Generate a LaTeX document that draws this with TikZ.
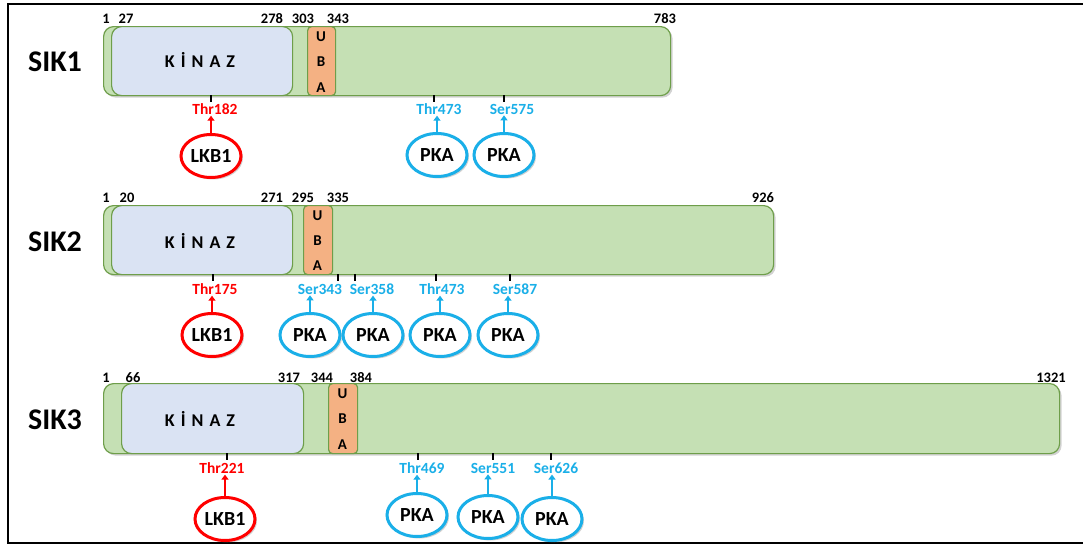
\documentclass[tikz,border=0pt]{standalone}
\usepackage{fontspec}
\setmainfont{Carlito}
\usetikzlibrary{shapes.geometric,shadows,arrows.meta}
\definecolor{bargreen}{HTML}{C5E0B4}
\definecolor{edgegreen}{HTML}{6E9E4A}
\definecolor{kinblue}{HTML}{DAE3F3}
\definecolor{ubaorange}{HTML}{F4B183}
\definecolor{pkablue}{HTML}{1AAFE8}
\definecolor{lkbred}{HTML}{FF0000}
\tikzset{
  shad/.style={drop shadow={opacity=0.35,shadow xshift=2pt,shadow yshift=-2pt}},
  bar/.style={draw=edgegreen,line width=1.2pt,fill=bargreen,rounded corners=10pt,anchor=north west,inner sep=0pt,shad},
  kin/.style={draw=edgegreen,line width=1.2pt,fill=kinblue,rounded corners=10pt,anchor=north west,inner sep=0pt},
  uba/.style={draw=edgegreen,line width=1.2pt,fill=ubaorange,rounded corners=4pt,anchor=north west,inner sep=0pt},
  ubatxt/.style={font=\bfseries\fontsize{15}{15}\selectfont,align=center},
  kintxt/.style={font=\bfseries\fontsize{18}{18}\selectfont},
  sik/.style={font=\bfseries\fontsize{30}{30}\selectfont},
  num/.style={font=\bfseries\fontsize{14.5}{14.5}\selectfont,inner sep=0pt},
  site/.style={font=\bfseries\fontsize{15.5}{15.5}\selectfont,inner sep=1pt},
  redsite/.style={site,text=lkbred},
  bluesite/.style={site,text=pkablue},
  enz/.style={ellipse,fill=white,line width=3pt,minimum width=60pt,minimum height=43pt,inner sep=0pt,font=\bfseries\fontsize{20}{20}\selectfont,shad},
  lkb/.style={enz,draw=lkbred},
  pka/.style={enz,draw=pkablue},
  tickm/.style={line width=1.8pt,black},
  redarr/.style={draw=lkbred,line width=2pt,-{Triangle[length=5pt,width=7pt]}},
  bluearr/.style={draw=pkablue,line width=2pt,-{Triangle[length=5pt,width=7pt]}},
}
\newcommand{\kinaz}{K\hspace{6pt}\.I\hspace{6pt}N\hspace{6pt}A\hspace{6pt}Z}
\begin{document}
\begin{tikzpicture}[x=1pt,y=-1pt]
\useasboundingbox (0,0) rectangle (1083,546);
\fill[white] (0,0) rectangle (1083,546);
\draw[line width=2.5pt] (8,4) rectangle (1095,543);

% ---------------- SIK1 ----------------
\node[sik] (sik1) at (55,62) {SIK1};
\node[bar,minimum width=567pt,minimum height=69pt] (bar1) at (103,26) {};
\node[kin,minimum width=181pt,minimum height=69pt] (kin1) at (111,26) {};
\node[uba,minimum width=28pt,minimum height=69pt] (uba1) at (307,26) {};
\node[kintxt] (kt1) at (200,60) {\kinaz};
\node[ubatxt] (u1a) at (321,37) {U};
\node[ubatxt] (u1b) at (321,62) {B};
\node[ubatxt] (u1c) at (321,88) {A};
\node[num] (n1a) at (106,19) {1};
\node[num] (n1b) at (126,19) {27};
\node[num] (n1c) at (272,19) {278};
\node[num] (n1d) at (303,19) {303};
\node[num] (n1e) at (338,19) {343};
\node[num] (n1f) at (665,19) {783};
\draw[tickm] (211,95) -- (211,102);
\draw[tickm] (434,95) -- (434,102);
\draw[tickm] (504,95) -- (504,102);
\node[redsite] (s1a) at (215,109) {Thr182};
\node[bluesite] (s1b) at (439,109) {Thr473};
\node[bluesite] (s1c) at (512,109) {Ser575};
\node[lkb] (e1a) at (211,156) {LKB1};
\node[pka] (e1b) at (437,155) {PKA};
\node[pka] (e1c) at (504,155) {PKA};
\draw[redarr] (e1a.north) -- (e1a.north |- s1a.south);
\draw[bluearr] (e1b.north) -- (e1b.north |- s1b.south);
\draw[bluearr] (e1c.north) -- (e1c.north |- s1c.south);

% ---------------- SIK2 ----------------
\node[sik] (sik2) at (55,242) {SIK2};
\node[bar,minimum width=670pt,minimum height=69pt] (bar2) at (103,205) {};
\node[kin,minimum width=181pt,minimum height=69pt] (kin2) at (111,205) {};
\node[uba,minimum width=29pt,minimum height=69pt] (uba2) at (303,205) {};
\node[kintxt] (kt2) at (200,241) {\kinaz};
\node[ubatxt] (u2a) at (317.5,216) {U};
\node[ubatxt] (u2b) at (317.5,241) {B};
\node[ubatxt] (u2c) at (317.5,266) {A};
\node[num] (n2a) at (106,198) {1};
\node[num] (n2b) at (127,198) {20};
\node[num] (n2c) at (272,198) {271};
\node[num] (n2d) at (303,198) {295};
\node[num] (n2e) at (338,198) {335};
\node[num] (n2f) at (763,198) {926};
\draw[tickm] (213,274) -- (213,281);
\draw[tickm] (338,274) -- (338,281);
\draw[tickm] (355,274) -- (355,281);
\draw[tickm] (436,274) -- (436,281);
\draw[tickm] (510,274) -- (510,281);
\node[redsite] (s2a) at (215,289) {Thr175};
\node[bluesite] (s2b) at (320,289) {Ser343};
\node[bluesite] (s2c) at (372,289) {Ser358};
\node[bluesite] (s2d) at (442,289) {Thr473};
\node[bluesite] (s2e) at (515,289) {Ser587};
\node[lkb] (e2a) at (212,335) {LKB1};
\node[pka] (e2b) at (310,335) {PKA};
\node[pka] (e2c) at (373,335) {PKA};
\node[pka] (e2d) at (440,335) {PKA};
\node[pka] (e2e) at (508,335) {PKA};
\draw[redarr] (e2a.north) -- (e2a.north |- s2a.south);
\draw[bluearr] (e2b.north) -- (e2b.north |- s2b.south);
\draw[bluearr] (e2c.north) -- (e2c.north |- s2c.south);
\draw[bluearr] (e2d.north) -- (e2d.north |- s2d.south);
\draw[bluearr] (e2e.north) -- (e2e.north |- s2e.south);

% ---------------- SIK3 ----------------
\node[sik] (sik3) at (55,420) {SIK3};
\node[bar,minimum width=956pt,minimum height=70pt] (bar3) at (103,383) {};
\node[kin,minimum width=182pt,minimum height=70pt] (kin3) at (121,383) {};
\node[uba,minimum width=29pt,minimum height=70pt] (uba3) at (328,383) {};
\node[kintxt] (kt3) at (200,419) {\kinaz};
\node[ubatxt] (u3a) at (342.5,394) {U};
\node[ubatxt] (u3b) at (342.5,419) {B};
\node[ubatxt] (u3c) at (342.5,445) {A};
\node[num] (n3a) at (106,378) {1};
\node[num] (n3b) at (133,378) {66};
\node[num] (n3c) at (289,378) {317};
\node[num] (n3d) at (322,378) {344};
\node[num] (n3e) at (361,378) {384};
\node[num] (n3f) at (1051,378) {1321};
\draw[tickm] (227,453) -- (227,460);
\draw[tickm] (418,453) -- (418,460);
\draw[tickm] (493,453) -- (493,460);
\draw[tickm] (551,453) -- (551,460);
\node[redsite] (s3a) at (222,468) {Thr221};
\node[bluesite] (s3b) at (422,468) {Thr469};
\node[bluesite] (s3c) at (493,468) {Ser551};
\node[bluesite] (s3d) at (556,468) {Ser626};
\node[lkb] (e3a) at (225,519) {LKB1};
\node[pka] (e3b) at (417,515) {PKA};
\node[pka] (e3c) at (488,517) {PKA};
\node[pka] (e3d) at (552,519) {PKA};
\draw[redarr] (e3a.north) -- (e3a.north |- s3a.south);
\draw[bluearr] (e3b.north) -- (e3b.north |- s3b.south);
\draw[bluearr] (e3c.north) -- (e3c.north |- s3c.south);
\draw[bluearr] (e3d.north) -- (e3d.north |- s3d.south);
\end{tikzpicture}
\end{document}
